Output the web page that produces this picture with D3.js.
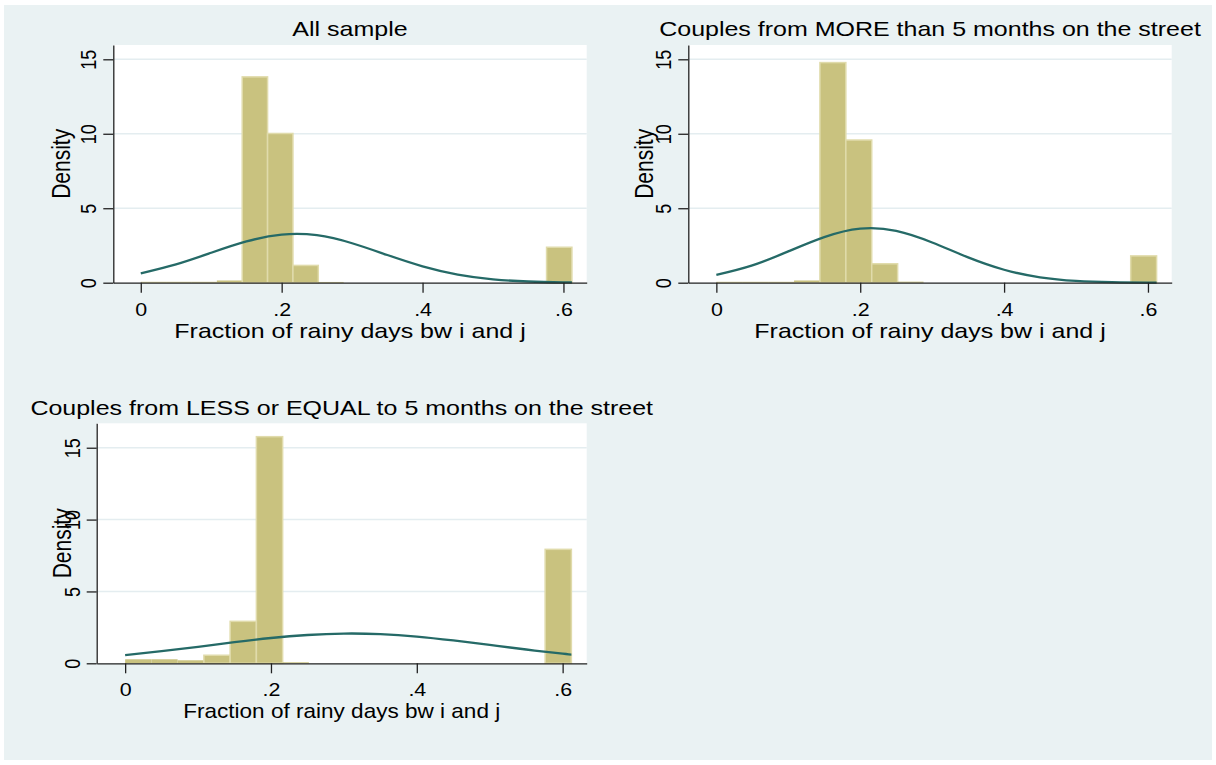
<!DOCTYPE html>
<html>
<head>
<meta charset="utf-8">
<script src="https://cdn.jsdelivr.net/npm/d3@7"></script>
<style>
  html, body { margin: 0; padding: 0; background: #fff; }
  text { font-family: "Liberation Sans", Arial, sans-serif; fill: #000; }
</style>
</head>
<body>
<div id="chart-area"></div>
<script>
// histogram bins (left edge of each bin), width 0.036
var binStart = [0, 0.036, 0.072, 0.108, 0.144, 0.18, 0.216, 0.252, 0.288,
  0.324, 0.36, 0.396, 0.432, 0.468, 0.504, 0.54, 0.576];
var binWidth = 0.036;

// densities
var densAll  = [0.06, 0.06, 0.06, 0.15, 13.82, 10.02, 1.16, 0.05, 0, 0, 0, 0, 0, 0, 0, 0, 2.38];
var densMore = [0.06, 0.06, 0.06, 0.15, 14.78, 9.58, 1.27, 0.07, 0, 0, 0, 0, 0, 0, 0, 0, 1.80];
var densLess = [0.28, 0.28, 0.21, 0.56, 2.92, 15.77, 0.07, 0, 0, 0, 0, 0, 0, 0, 0, 0, 7.93];

// normal density overlay
var curveX    = [0, 0.05, 0.10, 0.15, 0.20, 0.25, 0.30, 0.35, 0.40, 0.45, 0.50, 0.55, 0.60, 0.612];
var curveAll  = [0.63, 1.23, 2.01, 2.77, 3.23, 3.19, 2.65, 1.86, 1.10, 0.55, 0.23, 0.08, 0.025, 0.018];
var curveMore = [0.52, 1.16, 2.10, 3.06, 3.63, 3.48, 2.70, 1.70, 0.87, 0.36, 0.12, 0.033, 0.007, 0.005];
var curveLess = [0.57, 0.84, 1.15, 1.47, 1.76, 1.97, 2.07, 2.03, 1.86, 1.59, 1.28, 0.96, 0.67, 0.61];

var titles = ["All sample",
  "Couples from MORE than 5 months on the street",
  "Couples from LESS or EQUAL to 5 months on the street"];
var xTicks = [0, 0.2, 0.4, 0.6];
var xTickLabels = ["0", ".2", ".4", ".6"];
var yTicks = [0, 5, 10, 15];
var yGrid = [5, 10, 15];
var xTitle = "Fraction of rainy days bw i and j";
var yTitle = "Density";

var SX = 1.19; // the picture is stretched horizontally

var svg = d3.select("#chart-area")
  .append("svg")
  .attr("width", 1216)
  .attr("height", 765);

svg.append("rect")
  .attr("x", 4).attr("y", 5)
  .attr("width", 1208).attr("height", 755)
  .attr("fill", "#eaf2f3");

var panels = [
  { title: titles[0], dens: densAll, curve: curveAll,
    left: 113.3, right: 586.7, top: 45, bottom: 282.7, yMax: 15.96,
    titleY: 36, tickY: 316, xTitleY: 338.3, xTitleSX: SX, yTickX: 96.3, yTitleX: 70 },
  { title: titles[1], dens: densMore, curve: curveMore,
    left: 688.3, right: 1171.7, top: 45, bottom: 282.7, yMax: 15.96,
    titleY: 36, tickY: 316, xTitleY: 338.3, xTitleSX: SX, yTickX: 671.3, yTitleX: 653 },
  { title: titles[2], dens: densLess, curve: curveLess,
    left: 96.7, right: 586.7, top: 423.3, bottom: 663.3, yMax: 16.70,
    titleY: 415, tickY: 696, xTitleY: 717.7, xTitleSX: 1.074, yTickX: 79.7, yTitleX: 70.7 }
];

panels.forEach(p => {
  var x = d3.scaleLinear().domain([-0.039, 0.633]).range([p.left, p.right]);
  var y = d3.scaleLinear().domain([0, p.yMax]).range([p.bottom, p.top]);
  var g = svg.append("g");

  // plot region
  g.append("rect")
    .attr("x", p.left).attr("y", p.top)
    .attr("width", p.right - p.left).attr("height", p.bottom - p.top)
    .attr("fill", "#fff");

  // grid lines
  g.selectAll(".grid")
    .data(yGrid)
    .enter()
    .append("line")
    .attr("x1", p.left).attr("x2", p.right)
    .attr("y1", d => y(d)).attr("y2", d => y(d))
    .attr("stroke", "#e4edf0")
    .attr("stroke-width", 1.5);

  // bars
  g.selectAll(".bar")
    .data(p.dens)
    .enter()
    .append("rect")
    .attr("x", (d, i) => x(binStart[i]))
    .attr("y", d => y(d))
    .attr("width", (d, i) => x(binStart[i] + binWidth) - x(binStart[i]))
    .attr("height", d => p.bottom - y(d))
    .attr("fill", "#c9c27f")
    .attr("stroke", "#e0dbab")
    .attr("stroke-width", d => d > 0.3 ? 1.5 : 0);

  // normal curve
  var line = d3.line()
    .x((d, i) => x(curveX[i]))
    .y(d => y(d))
    .curve(d3.curveNatural);
  g.append("path")
    .datum(p.curve)
    .attr("d", line)
    .attr("fill", "none")
    .attr("stroke", "#256a67")
    .attr("stroke-width", 2.3);

  // x axis
  var xAxis = g.append("g")
    .attr("transform", "translate(0," + p.bottom + ")")
    .call(d3.axisBottom(x)
      .tickValues(xTicks)
      .tickFormat((d, i) => xTickLabels[i])
      .tickSize(10)
      .tickSizeOuter(0));
  xAxis.select(".domain").attr("stroke", "#222").attr("stroke-width", 1.3);
  xAxis.selectAll(".tick line").attr("stroke", "#222").attr("stroke-width", 1.3);
  xAxis.selectAll(".tick text")
    .attr("y", 0).attr("dy", 0)
    .attr("transform", "translate(0," + (p.tickY - p.bottom) + ") scale(" + SX + ",1)")
    .style("font-size", "18px")
    .style("font-family", "Liberation Sans, Arial, sans-serif")
    .attr("fill", "#000");

  // y axis
  var yAxis = g.append("g")
    .attr("transform", "translate(" + p.left + ",0)")
    .call(d3.axisLeft(y)
      .tickValues(yTicks)
      .tickSize(10)
      .tickSizeOuter(0));
  yAxis.select(".domain").attr("stroke", "#222").attr("stroke-width", 1.3);
  yAxis.selectAll(".tick line").attr("stroke", "#222").attr("stroke-width", 1.3);
  yAxis.selectAll(".tick text")
    .attr("x", 0).attr("dy", 0)
    .attr("text-anchor", "middle")
    .attr("transform", "translate(" + (p.yTickX - p.left) + ",0) scale(" + SX + ",1) rotate(-90)")
    .style("font-size", "18px")
    .style("font-family", "Liberation Sans, Arial, sans-serif")
    .attr("fill", "#000");

  // titles
  var cx = (p.left + p.right) / 2;
  g.append("text")
    .attr("transform", "translate(" + cx + "," + p.titleY + ") scale(" + SX + ",1)")
    .attr("text-anchor", "middle")
    .style("font-size", "21px")
    .text(p.title);

  g.append("text")
    .attr("transform", "translate(" + cx + "," + p.xTitleY + ") scale(" + p.xTitleSX + ",1)")
    .attr("text-anchor", "middle")
    .style("font-size", "21px")
    .text(xTitle);

  g.append("text")
    .attr("transform", "translate(" + p.yTitleX + "," + ((p.top + p.bottom) / 2) + ") scale(" + SX + ",1) rotate(-90)")
    .attr("text-anchor", "middle")
    .style("font-size", "21px")
    .text(yTitle);
});
</script>
</body>
</html>
